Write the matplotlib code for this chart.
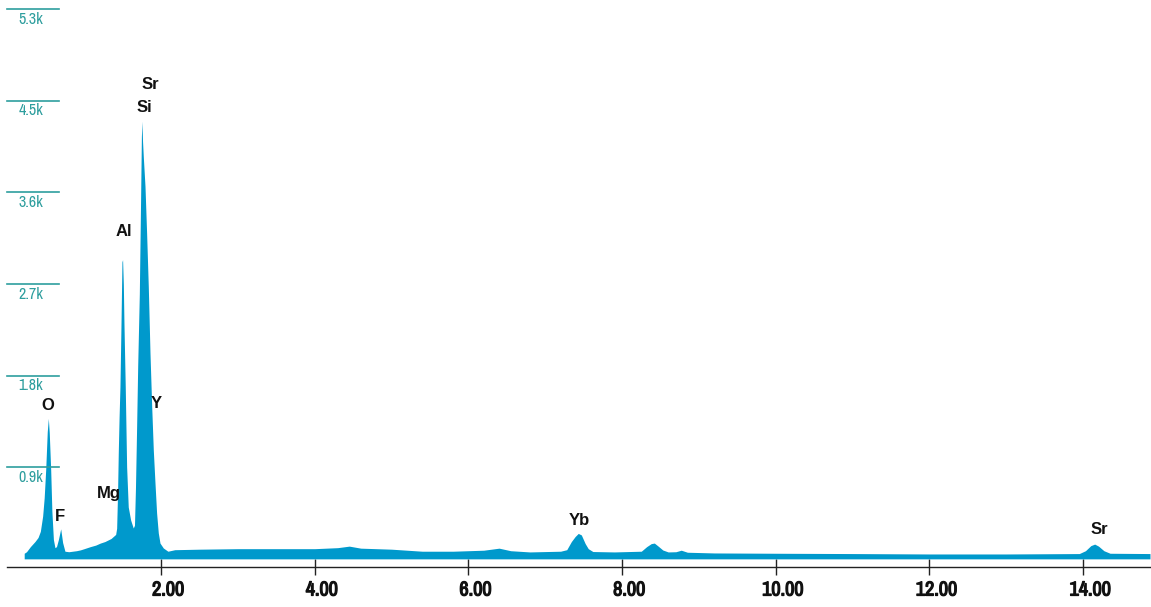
import matplotlib
matplotlib.use("Agg")
import matplotlib.pyplot as plt
import matplotlib.transforms as mtransforms
import matplotlib.patheffects as pe
from matplotlib import font_manager

# spectrum (keV, counts)
energy = [0.22, 0.25, 0.30, 0.36, 0.40, 0.43, 0.46, 0.48, 0.50, 0.52, 0.534, 0.546,
          0.565, 0.58, 0.60, 0.62, 0.64, 0.665, 0.695, 0.72, 0.75, 0.80, 0.90, 0.95,
          1.00, 1.08, 1.15, 1.21, 1.27, 1.31, 1.35, 1.38, 1.41, 1.423, 1.435, 1.444,
          1.455, 1.466, 1.479, 1.492, 1.50, 1.51, 1.518, 1.535, 1.553, 1.574, 1.605,
          1.639, 1.655, 1.668, 1.683, 1.697, 1.718, 1.735, 1.745, 1.752, 1.76, 1.77,
          1.792, 1.813, 1.835, 1.857, 1.879, 1.90, 1.922, 1.943, 1.965, 1.987, 2.03,
          2.09, 2.18, 2.5, 3.0, 3.5, 4.0, 4.3, 4.45, 4.6, 5.0, 5.4, 5.8, 6.2, 6.4,
          6.55, 6.8, 7.2, 7.28, 7.34, 7.39, 7.43, 7.47, 7.52, 7.56, 7.62, 7.9, 8.25,
          8.32, 8.38, 8.42, 8.47, 8.53, 8.6, 8.7, 8.77, 8.85, 9.2, 10.0, 11.0, 12.0,
          13.0, 13.95, 14.03, 14.1, 14.15, 14.2, 14.27, 14.35, 14.87]
counts = [55, 70, 120, 170, 210, 270, 420, 600, 880, 1250, 1380, 1240,
          870, 470, 190, 110, 120, 190, 295, 160, 75, 70, 80, 88,
          100, 120, 135, 155, 170, 185, 200, 220, 240, 300, 650, 1036,
          1400, 1690, 2278, 2917, 2940, 2700, 2318, 1690, 903, 510, 382,
          303, 330, 700, 1300, 1900, 2600, 3550, 4150, 4300, 4100, 3950,
          3660, 3200, 2670, 2020, 1500, 1070, 745, 450, 255, 155, 107,
          75, 90, 95, 100, 100, 100, 110, 125, 105, 95, 75, 75, 85, 105,
          80, 68, 75, 90, 170, 220, 250, 235, 150, 100, 72, 68, 75,
          120, 150, 155, 125, 87, 68, 70, 85, 65, 58, 55, 52, 48,
          48, 52, 80, 130, 145, 125, 80, 55, 52]

# element labels: (text, keV, counts at label centre)
peak_labels = ["O", "F", "Mg", "Al", "Sr", "Si", "Y", "Yb", "Sr"]
label_kev = [0.529, 0.686, 1.323, 1.518, 1.857, 1.778, 1.935, 7.438, 14.216]
label_cnt = [1502, 412, 638, 3212, 4656, 4430, 1522, 372, 284]

x_ticks = [2, 4, 6, 8, 10, 12, 14]
x_tick_labels = ["2.00", "4.00", "6.00", "8.00", "10.00", "12.00", "14.00"]
y_grid = [900, 1800, 2700, 3600, 4500, 5400]
y_grid_labels = ["0.9k", "1.8k", "2.7k", "3.6k", "4.5k", "5.3k"]

# pick a narrow face if one is installed
names = sorted({f.name for f in font_manager.fontManager.ttflist})
narrow = next((n for n in names if "Narrow" in n or "Condensed" in n), "DejaVu Sans")

W, H = 1151, 607
fig = plt.figure(figsize=(W / 100, H / 100), dpi=100)
ax = fig.add_axes([7.3 / W, (H - 567) / H, (1150 - 7.3) / W, (567 - 7) / H])
ax.set_xlim(0, 14.87)
ax.set_ylim(-80, 5422)

ax.fill_between(energy, 0, counts, color="#0099cc", linewidth=0, zorder=2)

for s in ["top", "left", "right"]:
    ax.spines[s].set_visible(False)
ax.spines["bottom"].set_color("#222222")
ax.spines["bottom"].set_linewidth(1.0)
ax.set_yticks([])
ax.set_xticks(x_ticks)
ax.set_xticklabels([])
ax.tick_params(axis="x", direction="inout", length=11, width=1, color="#222222")

# x tick labels sit a bit to the right of their ticks
shift = mtransforms.ScaledTranslation(7 / 100, -23 / 100, fig.dpi_scale_trans)
xtrans = ax.get_xaxis_transform() + shift
bold = [pe.withStroke(linewidth=0.9, foreground="#111111")]
for v, t in zip(x_ticks, x_tick_labels):
    ax.text(v, 0, t, transform=xtrans, ha="center", va="center",
            fontsize=14.5, fontweight="bold", family=narrow, fontstretch="condensed",
            color="#111111", path_effects=bold)

# short teal grid marks on the left with labels underneath
ytrans = ax.get_yaxis_transform()
gx1 = (59 - 7.3) / (1150 - 7.3)
lx = (43 - 7.3) / (1150 - 7.3)
down = mtransforms.ScaledTranslation(0, -10 / 100, fig.dpi_scale_trans)
for v, t in zip(y_grid, y_grid_labels):
    ax.plot([0, gx1], [v, v], color="#2e9e9e", lw=1.2, transform=ytrans,
            clip_on=False, zorder=3)
    ax.text(lx, v, t, transform=ytrans + down, ha="right", va="center",
            fontsize=11.5, family=narrow, fontstretch="condensed", color="#2e9e9e")

for t, e, c in zip(peak_labels, label_kev, label_cnt):
    ax.text(e, c, t, ha="center", va="center", fontsize=12, fontweight="bold",
            family="Liberation Sans", color="#111111", zorder=4)

fig.savefig("out.png", dpi=100)
